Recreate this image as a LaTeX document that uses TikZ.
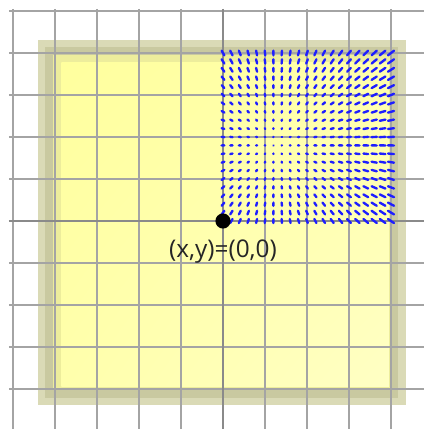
\documentclass[tikz,border=0pt]{standalone}
\usepackage{fontspec}
\setmainfont{Open Sans}
\usetikzlibrary{shadings}
\definecolor{gridgray}{HTML}{A4A4A4}
\definecolor{axisgray}{HTML}{8A8A8A}
\definecolor{bandouter}{HTML}{DADAB6}
\definecolor{bandmid}{HTML}{C9C9A0}
\definecolor{bandyel}{HTML}{EDED9C}
\definecolor{yelUL}{HTML}{FFFF9E}
\definecolor{yelUR}{HTML}{FFFFAC}
\definecolor{yelLL}{HTML}{FFFFAC}
\definecolor{yelLR}{HTML}{FFFFC4}
\definecolor{vecblue}{HTML}{1E1EFF}
\tikzset{
  gridline/.style={draw=gridgray,line width=1.3pt},
  axisline/.style={draw=axisgray,line width=1.5pt},
  vec/.style={draw=vecblue,line width=1.6pt,line cap=round},
  originlabel/.style={font=\fontsize{16.5}{18}\selectfont,text=black!85,inner sep=0pt}
}
\begin{document}
\begin{tikzpicture}
\useasboundingbox (-5.3095,-4.9524) rectangle (4.7857,5.2619);
% shadow bands and square
\fill[bandouter] (-4.40,-4.38) rectangle (4.36,4.31);
\fill[bandmid] (-4.24,-4.21) rectangle (4.17,4.14);
\fill[bandyel] (-4.05,-4.02) rectangle (4.02,3.95);
\shade[upper left=yelUL,upper right=yelUR,lower left=yelLL,lower right=yelLR]
  (-3.85,-3.95) rectangle (3.95,3.78);
% grid
\foreach \k in {-5,...,4}{
  \draw[gridline] (\k,5.05) -- (\k,-4.9524);
}
\foreach \k in {-4,...,5}{
  \draw[gridline] (-5.1,\k) -- (4.7857,\k);
}
\draw[axisline] (0,5.05) -- (0,-4.9524);
\draw[axisline] (-5.1,0) -- (4.7857,0);
% vector field
\foreach \i in {0,...,20}{
  \foreach \j in {0,...,20}{
    \pgfmathsetmacro\px{\i*0.2}
    \pgfmathsetmacro\py{\j*0.2}
    \pgfmathsetmacro\u{0.026*(\px-1.25)}
    \pgfmathsetmacro\v{0.026*(\py-1.85)}
    \pgfmathsetmacro\ax{\px-\u}
    \pgfmathsetmacro\ay{\py-\v}
    \pgfmathsetmacro\bx{\px+\u}
    \pgfmathsetmacro\by{\py+\v}
    \draw[vec] (\ax,\ay) -- (\bx,\by);
  }
}
% origin
\node[circle,fill=black,minimum size=0.36cm,inner sep=0pt] (origin) at (0,0) {};
\node[originlabel,anchor=base] (lbl) at (0,-0.88) {(x,y)=(0,0)};
\end{tikzpicture}
\end{document}
